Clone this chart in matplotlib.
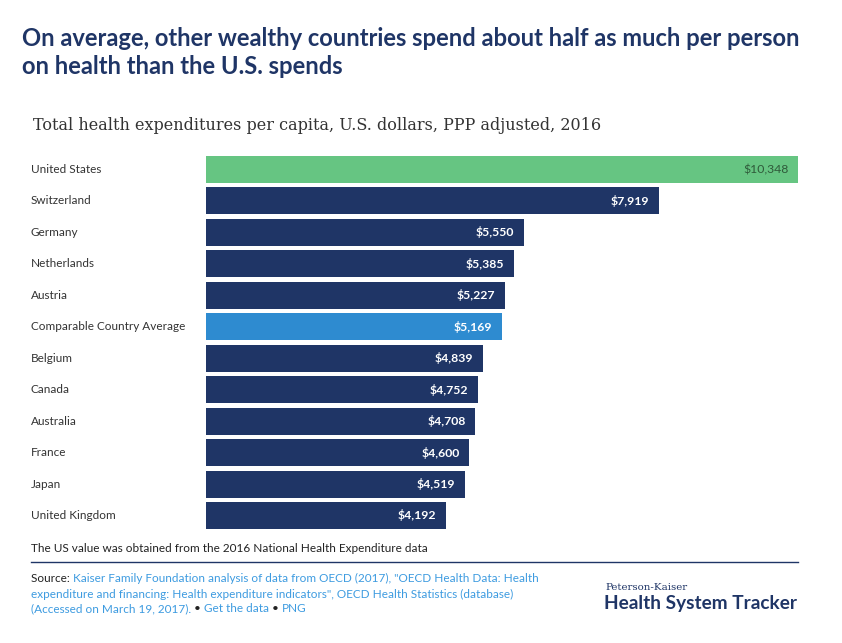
import matplotlib
matplotlib.use("Agg")
import matplotlib.pyplot as plt
from matplotlib import transforms

countries = ["United States", "Switzerland", "Germany", "Netherlands", "Austria",
             "Comparable Country Average", "Belgium", "Canada", "Australia",
             "France", "Japan", "United Kingdom"]
values = [10348, 7919, 5550, 5385, 5227, 5169, 4839, 4752, 4708, 4600, 4519, 4192]

NAVY = "#1f3566"
GREEN = "#66c582"
LBLUE = "#2e8bd0"
LINK = "#3d9be0"
colors = [GREEN if c == "United States" else LBLUE if c.startswith("Comparable") else NAVY
          for c in countries]

W, H = 842, 643
fig = plt.figure(figsize=(W / 100, H / 100), dpi=100)
fig.patch.set_facecolor("white")

def fx(px):
    return px / W

def fy(py):
    return 1 - py / H

ax = fig.add_axes([fx(206), fy(529), fx(798) - fx(206), fy(156) - fy(529)])
ypos = list(range(len(countries)))
ax.barh(ypos, values, height=0.86, color=colors)
ax.set_xlim(0, values[0])
ax.set_ylim(len(countries) - 1 + 0.43, -0.43)
ax.axis("off")

blend = transforms.blended_transform_factory(fig.transFigure, ax.transData)
for i, (c, v) in enumerate(zip(countries, values)):
    label = f"${v:,}"
    if c == "United States":
        ax.text(v - 170, i, label, ha="right", va="center", fontsize=8.8,
                color="#2f5a3a", family="Lato")
    else:
        ax.text(v - 170, i, label, ha="right", va="center", fontsize=8.8,
                color="white", fontweight="bold", family="Lato")
    ax.text(fx(31), i, c, transform=blend, ha="left", va="center",
            fontsize=8.5, color="#333333", family="Lato", clip_on=False)

# Title
fig.text(fx(22), fy(38), "On average, other wealthy countries spend about half as much per person",
         fontsize=17.1, fontweight="bold", color=NAVY, family="Lato", va="center")
fig.text(fx(22), fy(67), "on health than the U.S. spends",
         fontsize=17.1, fontweight="bold", color=NAVY, family="Lato", va="center")
# Subtitle
fig.text(fx(33), fy(125), "Total health expenditures per capita, U.S. dollars, PPP adjusted, 2016",
         fontsize=11.5, color="#333333", family="DejaVu Serif", va="center")

# Note
fig.text(fx(31), fy(549), "The US value was obtained from the 2016 National Health Expenditure data",
         fontsize=8.5, color="#222222", family="Lato", va="center")
fig.add_artist(plt.Line2D([fx(31), fx(798)], [fy(562), fy(562)], color=NAVY, lw=1))

# Source
ov = fig.add_axes([0, 0, 1, 1], facecolor="none")
ov.axis("off")
t0 = ov.text(fx(31), fy(578), "Source: ", fontsize=8.5, color="#222222",
             family="Lato", va="center")
ov.annotate("Kaiser Family Foundation analysis of data from OECD (2017), \"OECD Health Data: Health",
            xy=(1, 0.5), xycoords=t0, va="center", ha="left", fontsize=8.5,
            color=LINK, family="Lato")
fig.text(fx(31), fy(594),
         "expenditure and financing: Health expenditure indicators\", OECD Health Statistics (database)",
         fontsize=8.5, color=LINK, family="Lato", va="center")
t1 = ov.text(fx(31), fy(609), "(Accessed on March 19, 2017). ", fontsize=8.5, color=LINK,
             family="Lato", va="center")
t2 = ov.annotate("\u2022 ", xy=(1, 0.5), xycoords=t1, va="center", ha="left",
                 fontsize=8.5, color="#222222", family="Lato")
t3 = ov.annotate("Get the data ", xy=(1, 0.5), xycoords=t2, va="center", ha="left",
                 fontsize=8.5, color=LINK, family="Lato")
t4 = ov.annotate("\u2022 ", xy=(1, 0.5), xycoords=t3, va="center", ha="left",
                 fontsize=8.5, color="#222222", family="Lato")
ov.annotate("PNG", xy=(1, 0.5), xycoords=t4, va="center", ha="left",
            fontsize=8.5, color=LINK, family="Lato")

# Logo
fig.text(fx(605), fy(587), "Peterson-Kaiser", fontsize=7.4, color=NAVY,
         family="DejaVu Serif", va="center")
fig.text(fx(604), fy(604), "Health System Tracker", fontsize=13.7, fontweight="bold",
         color=NAVY, family="Lato", va="center")

fig.savefig("out.png", dpi=100, facecolor="white")
